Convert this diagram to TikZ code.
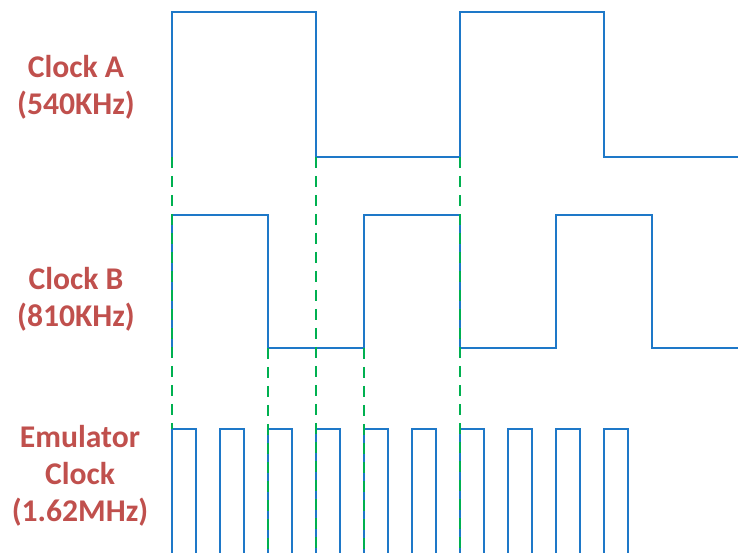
\documentclass[tikz,border=0pt]{standalone}
\usepackage{fontspec}
\setmainfont{Carlito}
\definecolor{wavecolor}{RGB}{30,120,200}
\definecolor{guidecolor}{RGB}{0,176,80}
\definecolor{labelcolor}{RGB}{192,80,77}
\begin{document}
\begin{tikzpicture}
[x=0.02cm,y=-0.02cm,
  wavedecorate/.style={line width=1.1pt,color=wavecolor},
  guidedecorate/.style={line width=1.1pt,color=guidecolor,dash pattern=on 0.22cm off 0.16cm},
  labeldecorate/.style={align=center,text=labelcolor,font=\fontsize{18}{21}\selectfont\bfseries}]
\useasboundingbox (0,0) rectangle (738,553);
% labels
\node (clka) at (76,87) [labeldecorate] {Clock A\\(540KHz)};
\node (clkb) at (76,299) [labeldecorate] {Clock B\\(810KHz)};
\node (emu) at (80,476) [labeldecorate] {Emulator\\Clock\\(1.62MHz)};
% waveforms
\draw[wavedecorate] (172,157) -- (172,12) -- (316,12) -- (316,157) -- (460,157)
  -- (460,12) -- (604,12) -- (604,157) -- (738,157);
\draw[wavedecorate] (172,348) -- (172,215) -- (268,215) -- (268,348) -- (364,348)
  -- (364,215) -- (460,215) -- (460,348) -- (556,348) -- (556,215) -- (652,215)
  -- (652,348) -- (738,348);
\foreach \t in {172,220,...,604}
  \draw[wavedecorate] (\t,553) -- (\t,429) -- ({\t+24},429) -- ({\t+24},553);
% guide lines
\draw[guidedecorate] (172,157) -- (172,429);
\draw[guidedecorate] (316,157) -- (316,553);
\draw[guidedecorate] (460,157) -- (460,553);
\draw[guidedecorate] (268,348) -- (268,553);
\draw[guidedecorate] (364,348) -- (364,553);
\end{tikzpicture}
\end{document}
